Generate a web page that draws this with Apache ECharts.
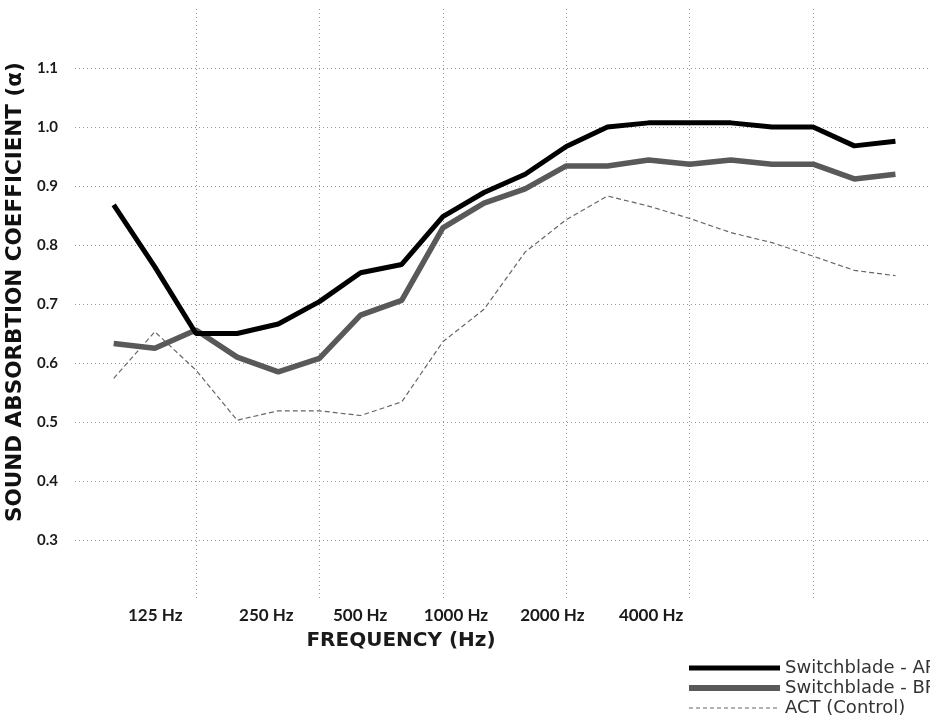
<!DOCTYPE html>
<html>
<head>
<meta charset="utf-8">
<script src="https://cdn.jsdelivr.net/npm/echarts@6/dist/echarts.min.js"></script>
<style>
  html, body { margin: 0; padding: 0; background: #ffffff; }
  #chart { width: 930px; height: 723px; }
</style>
</head>
<body>
<div id="chart"></div>
<script>
// One-third-octave measurement points (index 0..19 along the x axis)
const bandIndex = [0,1,2,3,4,5,6,7,8,9,10,11,12,13,14,15,16,17,18,19];

const seriesNames = ['Switchblade - AP', 'Switchblade - BP', 'ACT (Control)'];

const switchbladeAP = [0.868, 0.763, 0.650, 0.650, 0.666, 0.704, 0.753, 0.767, 0.848, 0.889,
                       0.920, 0.967, 1.000, 1.007, 1.007, 1.007, 1.000, 1.000, 0.968, 0.976];
const switchbladeBP = [0.633, 0.625, 0.656, 0.610, 0.585, 0.608, 0.681, 0.706, 0.829, 0.871,
                       0.895, 0.934, 0.934, 0.944, 0.937, 0.944, 0.937, 0.937, 0.912, 0.920];
const actControl    = [0.574, 0.653, 0.588, 0.503, 0.519, 0.519, 0.511, 0.534, 0.636, 0.691,
                       0.788, 0.843, 0.883, 0.866, 0.845, 0.821, 0.804, 0.781, 0.757, 0.748];

// Tick labels and where they sit on the x axis (in band-index units)
const xTickLabels = ['125 Hz', '250 Hz', '500 Hz', '1000 Hz', '2000 Hz', '4000 Hz'];
const xTickAt     = [1.01, 3.71, 5.99, 8.32, 10.66, 13.06];
// Vertical grid lines (every third band)
const xGridAt     = [2, 5, 8, 11, 14, 17];

const yMin = 0.2, yMax = 1.2, yStep = 0.1;

const toPairs = arr => arr.map((v, i) => [bandIndex[i], v]);

const chart = echarts.init(document.getElementById('chart'), null, { renderer: 'canvas' });

const gridLine = { color: '#9a9a9a', width: 1, type: [1, 3] };
const hiddenSymbol = { color: 'rgba(0,0,0,0)', opacity: 0, borderWidth: 0 };

chart.setOption({
  animation: false,
  backgroundColor: '#ffffff',
  grid: { left: 75, right: 0, top: 9, bottom: 124, containLabel: false, outerBoundsMode: 'none' },
  xAxis: {
    type: 'value',
    min: -0.94,
    max: 19.84,
    axisLine: { show: false },
    axisTick: { show: false, customValues: xGridAt },
    splitLine: { show: true, lineStyle: gridLine },
    axisLabel: {
      customValues: xTickAt,
      formatter: function (v) {
        const k = xTickAt.findIndex(t => Math.abs(t - v) < 1e-6);
        return k >= 0 ? xTickLabels[k] : '';
      },
      margin: 8,
      color: '#1a1a1a',
      fontFamily: 'Lato',
      fontWeight: 'bold',
      fontSize: 17,
      showMinLabel: true,
      showMaxLabel: true
    },
    name: 'FREQUENCY (Hz)',
    nameLocation: 'middle',
    nameGap: 32,
    nameTextStyle: {
      color: '#1a1a1a',
      fontFamily: 'DejaVu Sans',
      fontWeight: 'bold',
      fontSize: 20,
      padding: [0, 203, 0, 0]
    }
  },
  yAxis: {
    type: 'value',
    min: yMin,
    max: yMax,
    interval: yStep,
    axisLine: { show: false },
    axisTick: { show: false },
    splitLine: { show: true, lineStyle: gridLine, showMinLine: false, showMaxLine: false },
    axisLabel: {
      showMinLabel: false,
      showMaxLabel: false,
      formatter: v => v.toFixed(1),
      margin: 17,
      color: '#1a1a1a',
      fontFamily: 'Lato',
      fontWeight: 'bold',
      fontSize: 15
    },
    name: 'SOUND ABSORBTION COEFFICIENT (α)',
    nameLocation: 'middle',
    nameRotate: 90,
    nameGap: 46,
    nameTextStyle: {
      color: '#111111',
      fontFamily: 'DejaVu Sans',
      fontWeight: 'bold',
      fontSize: 21.5,
      padding: [0, 0, 0, 24]
    }
  },
  legend: {
    orient: 'vertical',
    left: 686,
    top: 658,
    itemWidth: 91,
    itemHeight: 20,
    itemGap: 0,
    padding: 0,
    textStyle: { color: '#333333', fontFamily: 'DejaVu Sans', fontSize: 18, lineHeight: 20 },
    data: [
      { name: seriesNames[0], itemStyle: hiddenSymbol, lineStyle: { width: 5, color: '#000000', type: 'solid' } },
      { name: seriesNames[1], itemStyle: hiddenSymbol, lineStyle: { width: 6, color: '#595959', type: 'solid' } },
      { name: seriesNames[2], itemStyle: hiddenSymbol, lineStyle: { width: 1, color: '#666666', type: [4, 3] } }
    ]
  },
  series: [
    {
      name: seriesNames[2],
      type: 'line',
      data: toPairs(actControl),
      symbol: 'none',
      lineStyle: { color: '#666666', width: 1.2, type: [5, 3] },
      itemStyle: { color: '#666666' },
      z: 2
    },
    {
      name: seriesNames[1],
      type: 'line',
      data: toPairs(switchbladeBP),
      symbol: 'none',
      lineStyle: { color: '#595959', width: 5.5 },
      itemStyle: { color: '#595959' },
      z: 3
    },
    {
      name: seriesNames[0],
      type: 'line',
      data: toPairs(switchbladeAP),
      symbol: 'none',
      lineStyle: { color: '#000000', width: 5 },
      itemStyle: { color: '#000000' },
      z: 4
    }
  ]
});
</script>
</body>
</html>
